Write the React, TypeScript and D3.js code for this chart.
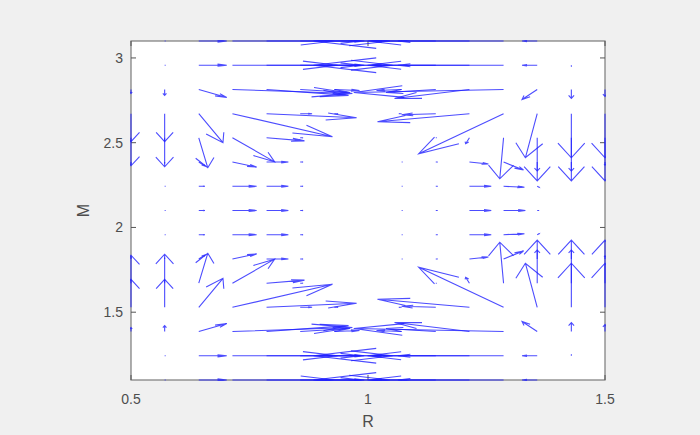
import React, { useEffect, useRef } from "react";
import * as d3 from "d3";

// grid of the quiver plot (R across, M from top row to bottom row)
const R_GRID = [0.5, 0.571, 0.643, 0.714, 0.786, 0.857, 0.929, 1, 1.071, 1.143, 1.214, 1.286, 1.357, 1.429, 1.5];
const M_GRID = [3.1, 2.957, 2.814, 2.671, 2.529, 2.386, 2.243, 2.1, 1.957, 1.814, 1.671, 1.529, 1.386, 1.243, 1.1];

// dR component of each arrow (rows follow M_GRID)
const U = [
  [0, 0.002, 0.059, 0.215, 0.26, 0.127, 0.063, 0, -0.063, -0.08, -0.215, -0.401, -0.032, 0, 0],
  [0, 0.002, 0.059, 0.222, 0.266, 0.127, 0.063, 0, -0.063, -0.08, -0.215, -0.401, -0.032, 0, 0],
  [0, 0, 0.059, 0.253, 0.173, 0.105, 0.053, 0, -0.053, -0.105, -0.158, -0.316, -0.032, 0, 0],
  [0, 0, 0.051, 0.211, 0.19, 0.025, 0.008, 0, -0.006, -0.072, -0.194, -0.179, -0.025, 0, 0],
  [0, 0, 0.019, 0.089, 0.08, 0.006, 0, 0, 0, 0.002, -0.008, -0.008, 0, 0, 0],
  [0, 0, 0.013, 0.051, 0.046, 0.006, 0, 0, 0.002, 0.004, 0.04, 0.042, 0, 0, 0],
  [0, 0.002, 0.013, 0.051, 0.046, 0.006, 0, 0, 0.002, 0.004, 0.046, 0.044, 0.004, 0, 0],
  [0, 0.002, 0.013, 0.051, 0.046, 0.006, 0, 0, 0.002, 0.004, 0.046, 0.046, 0.004, 0, 0],
  [0, 0.002, 0.013, 0.051, 0.046, 0.006, 0, 0, 0.002, 0.004, 0.046, 0.044, 0.004, 0, 0],
  [0, 0, 0.013, 0.051, 0.046, 0.006, 0, 0, 0.002, 0.004, 0.04, 0.042, 0, 0, 0],
  [0, 0, 0.019, 0.089, 0.08, 0.006, 0, 0, 0, 0.002, -0.008, -0.008, 0, 0, 0],
  [0, 0, 0.051, 0.211, 0.19, 0.025, 0.008, 0, -0.006, -0.072, -0.194, -0.179, -0.025, 0, 0],
  [0, 0, 0.059, 0.253, 0.173, 0.105, 0.053, 0, -0.053, -0.105, -0.158, -0.316, -0.032, 0, 0],
  [0, 0.002, 0.059, 0.222, 0.266, 0.127, 0.063, 0, -0.063, -0.08, -0.215, -0.401, -0.032, 0, 0],
  [0, 0.002, 0.059, 0.215, 0.26, 0.127, 0.063, 0, -0.063, -0.08, -0.215, -0.401, -0.032, 0, 0],
];

// dM component of each arrow
const V = [
  [0, 0, 0, 0, 0, 0, 0, 0, 0, 0, 0, 0, 0, 0, 0],
  [0, 0, 0, 0, 0, 0, 0, 0, 0, 0, 0, 0, 0, -0.006, 0],
  [-0.024, -0.035, -0.047, -0.024, -0.035, -0.018, -0.006, 0, -0.006, -0.018, -0.053, -0.018, -0.059, -0.053, -0.041],
  [-0.165, -0.165, -0.171, -0.136, -0.024, 0, 0, 0, 0, -0.006, -0.047, -0.236, -0.26, -0.26, -0.26],
  [-0.165, -0.171, -0.177, -0.142, -0.018, 0, 0, 0, 0, 0, -0.035, -0.242, -0.254, -0.254, -0.254],
  [-0.012, -0.006, -0.024, -0.03, 0, 0, 0, 0, 0, 0, -0.012, -0.047, -0.053, -0.053, -0.018],
  [0, 0, 0, 0, 0, 0, 0, 0, 0, 0, 0, -0.006, -0.006, 0, 0],
  [0, 0, 0, 0, 0, 0, 0, 0, 0, 0, 0, 0, 0, 0, 0],
  [0, 0, 0, 0, 0, 0, 0, 0, 0, 0, 0, 0.006, 0.006, 0, 0],
  [0.012, 0.006, 0.024, 0.03, 0, 0, 0, 0, 0, 0, 0.012, 0.047, 0.053, 0.053, 0.018],
  [0.165, 0.171, 0.177, 0.142, 0.018, 0, 0, 0, 0, 0, 0.035, 0.242, 0.254, 0.254, 0.254],
  [0.165, 0.165, 0.171, 0.136, 0.024, 0, 0, 0, 0, 0.006, 0.047, 0.236, 0.26, 0.26, 0.26],
  [0.024, 0.035, 0.047, 0.024, 0.035, 0.018, 0.006, 0, 0.006, 0.018, 0.053, 0.018, 0.059, 0.053, 0.041],
  [0, 0, 0, 0, 0, 0, 0, 0, 0, 0, 0, 0, 0, 0.006, 0],
  [0, 0, 0, 0, 0, 0, 0, 0, 0, 0, 0, 0, 0, 0, 0],
];

const X_TICKS = [0.5, 1, 1.5];
const Y_TICKS = [1.5, 2, 2.5, 3];

const W = 700;
const H = 435;

const QuiverChart = () => {
  const svgRef = useRef<SVGSVGElement>(null);

  useEffect(() => {
    const margin = { top: 41, right: 95, bottom: 55, left: 131 };
    const width = W - margin.left - margin.right;
    const height = H - margin.top - margin.bottom;

    const root = d3.select(svgRef.current);
    root.selectAll("*").remove();
    root.attr("width", W).attr("height", H);

    root.append("rect").attr("width", W).attr("height", H).attr("fill", "#f0f0f0");

    const svg = root.append("g").attr("transform", `translate(${margin.left},${margin.top})`);

    const x = d3.scaleLinear().domain([0.5, 1.5]).range([0, width]);
    const y = d3.scaleLinear().domain([1.1, 3.1]).range([height, 0]);

    svg.append("rect").attr("width", width).attr("height", height).attr("fill", "white");

    // box
    svg
      .append("rect")
      .attr("width", width)
      .attr("height", height)
      .attr("fill", "none")
      .attr("stroke", "#7a7a7a")
      .attr("stroke-width", 1.2);

    const tickLen = 5;
    const font = "'Liberation Sans', Arial, sans-serif";
    const textColor = "#4d4d4d";

    X_TICKS.forEach((t) => {
      svg.append("line").attr("x1", x(t)).attr("x2", x(t)).attr("y1", height).attr("y2", height - tickLen).attr("stroke", "#555");
      svg.append("line").attr("x1", x(t)).attr("x2", x(t)).attr("y1", 0).attr("y2", tickLen).attr("stroke", "#555");
      svg
        .append("text")
        .attr("x", x(t))
        .attr("y", height + 24)
        .attr("text-anchor", "middle")
        .attr("font-family", font)
        .attr("font-size", 14)
        .attr("fill", textColor)
        .text(String(t));
    });

    Y_TICKS.forEach((t) => {
      svg.append("line").attr("x1", 0).attr("x2", tickLen).attr("y1", y(t)).attr("y2", y(t)).attr("stroke", "#555");
      svg.append("line").attr("x1", width).attr("x2", width - tickLen).attr("y1", y(t)).attr("y2", y(t)).attr("stroke", "#555");
      svg
        .append("text")
        .attr("x", -8)
        .attr("y", y(t))
        .attr("dy", "0.36em")
        .attr("text-anchor", "end")
        .attr("font-family", font)
        .attr("font-size", 14)
        .attr("fill", textColor)
        .text(String(t));
    });

    svg
      .append("text")
      .attr("x", x(1))
      .attr("y", height + 47)
      .attr("text-anchor", "middle")
      .attr("font-family", font)
      .attr("font-size", 16)
      .attr("fill", textColor)
      .text("R");

    svg
      .append("text")
      .attr("transform", `translate(${-42},${y(2.1)}) rotate(-90)`)
      .attr("text-anchor", "middle")
      .attr("font-family", font)
      .attr("font-size", 16)
      .attr("fill", textColor)
      .text("M");

    svg
      .append("clipPath")
      .attr("id", "plot-clip")
      .append("rect")
      .attr("x", -1)
      .attr("y", -1)
      .attr("width", width + 2)
      .attr("height", height + 2);

    // quiver arrows, head built in data units like matlab's quiver
    const alpha = 0.33;
    const beta = 0.33;
    const arrows = [];
    M_GRID.forEach((m, i) => {
      R_GRID.forEach((r, j) => {
        const u = U[i][j];
        const v = V[i][j];
        if (u === 0 && v === 0) return;
        arrows.push({ r, m, u, v });
      });
    });

    const arrowPath = (d) => {
      const tx = d.r + d.u;
      const ty = d.m + d.v;
      const h1x = tx - alpha * (d.u + beta * d.v);
      const h1y = ty - alpha * (d.v - beta * d.u);
      const h2x = tx - alpha * (d.u - beta * d.v);
      const h2y = ty - alpha * (d.v + beta * d.u);
      return (
        `M${x(d.r)},${y(d.m)}L${x(tx)},${y(ty)}` +
        `M${x(h1x)},${y(h1y)}L${x(tx)},${y(ty)}L${x(h2x)},${y(h2y)}`
      );
    };

    svg
      .append("g")
      .attr("clip-path", "url(#plot-clip)")
      .selectAll("path")
      .data(arrows)
      .join("path")
      .attr("d", arrowPath)
      .attr("fill", "none")
      .attr("stroke", "#1f1fff")
      .attr("stroke-opacity", 0.8)
      .attr("stroke-width", 1.1);
  }, []);

  return <svg ref={svgRef} style={{ position: "absolute", left: 0, top: 0 }}></svg>;
};

export default function App() {
  return <QuiverChart />;
}
